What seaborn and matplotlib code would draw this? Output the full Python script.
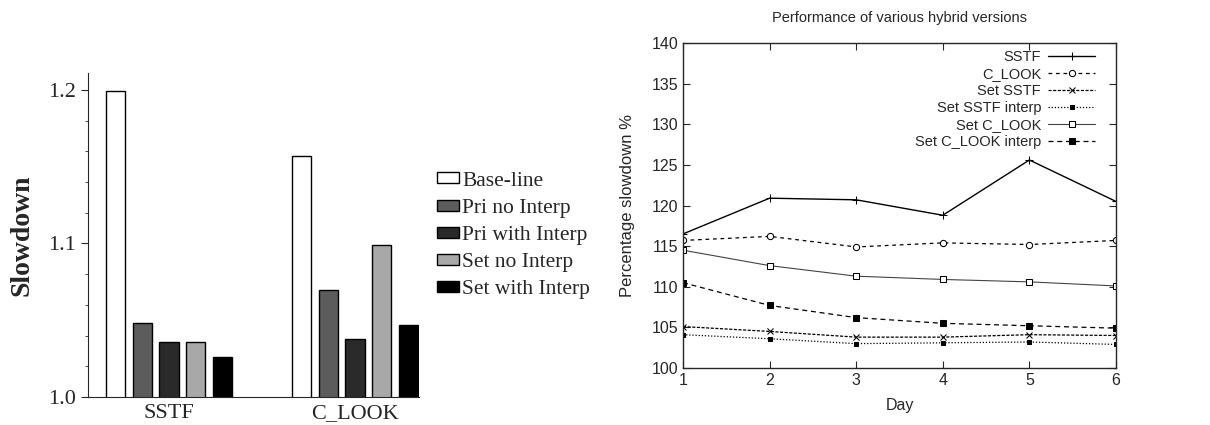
import pandas as pd
import matplotlib
matplotlib.use('Agg')
import matplotlib.pyplot as plt
from matplotlib.ticker import MultipleLocator, FormatStrFormatter
import seaborn as sns

# Left panel: slowdown per scheduler and variant
schedulers = ['SSTF', 'C_LOOK']
variants = ['Base-line', 'Pri no Interp', 'Pri with Interp', 'Set no Interp', 'Set with Interp']
sstf_slowdown = [1.199, 1.048, 1.036, 1.036, 1.026]
clook_slowdown = [1.157, 1.070, 1.038, 1.099, 1.047]
bar_colors = ['#ffffff', '#5c5c5c', '#2a2a2a', '#a8a8a8', '#000000']

# Right panel: percentage slowdown per day
days = [1, 2, 3, 4, 5, 6]
sstf = [116.5, 120.9, 120.7, 118.8, 125.6, 120.5]
c_look = [115.7, 116.2, 114.9, 115.4, 115.2, 115.7]
set_sstf = [105.1, 104.5, 103.8, 103.8, 104.1, 104.0]
set_sstf_interp = [104.1, 103.6, 103.0, 103.1, 103.2, 102.9]
set_c_look = [114.5, 112.6, 111.3, 110.9, 110.6, 110.1]
set_c_look_interp = [110.5, 107.7, 106.2, 105.5, 105.2, 104.9]
line_names = ['SSTF', 'C_LOOK', 'Set SSTF', 'Set SSTF interp', 'Set C_LOOK', 'Set C_LOOK interp']

sns.set_style('ticks')
serif = 'Liberation Serif'
sans = 'Liberation Sans'

bar_df = pd.DataFrame({
    'scheduler': [s for s in schedulers for _ in variants],
    'variant': variants * 2,
    'slowdown': sstf_slowdown + clook_slowdown,
})

fig = plt.figure(figsize=(12.1, 4.25), dpi=100)
ax1 = fig.add_axes([88 / 1210, 28 / 425, 331 / 1210, 324 / 425])
ax2 = fig.add_axes([683 / 1210, 57 / 425, 433 / 1210, 325 / 425])

# ---- left: grouped bars ----
sns.barplot(data=bar_df, x='scheduler', y='slowdown', hue='variant',
            palette=bar_colors, saturation=1, edgecolor='black', linewidth=1,
            width=0.715, gap=0.28, ax=ax1)
ax1.set_ylim(1.0, 1.211)
ax1.set_xlim(-0.435, 1.344)
ax1.yaxis.set_major_locator(MultipleLocator(0.1))
ax1.yaxis.set_minor_locator(MultipleLocator(0.02))
ax1.yaxis.set_major_formatter(FormatStrFormatter('%.1f'))
ax1.tick_params(axis='y', which='major', direction='out', length=5, labelsize=16)
ax1.tick_params(axis='y', which='minor', direction='out', length=2)
ax1.tick_params(axis='x', length=0, labelsize=16, pad=5)
for lab in ax1.get_xticklabels() + ax1.get_yticklabels():
    lab.set_fontfamily(serif)
ax1.set_xlabel('')
ax1.set_ylabel('Slowdown', fontfamily=serif, fontsize=20, fontweight='bold')
ax1.yaxis.set_label_coords(-0.163, 0.5)
sns.despine(ax=ax1)
ax1.legend(loc='center left', bbox_to_anchor=(418 / 1210, 0.446),
           bbox_transform=fig.transFigure, frameon=False,
           handlelength=1.0, handleheight=0.4, handletextpad=0.15,
           labelspacing=0.38, prop={'family': serif, 'size': 15.5})

# ---- right: lines per version ----
series = [sstf, c_look, set_sstf, set_sstf_interp, set_c_look, set_c_look_interp]
styles = [
    dict(linestyle='-', marker='+', ms=6, color='black', lw=1.0),
    dict(linestyle=(0, (3, 3)), marker='o', ms=4.5, mfc='white', color='black', lw=0.9),
    dict(linestyle=(0, (2.5, 1.2)), marker='x', ms=4.5, color='black', lw=0.9),
    dict(linestyle=(0, (1, 1.5)), marker='s', ms=3.5, color='black', lw=0.9),
    dict(linestyle='-', marker='s', ms=4.5, mfc='white', color='#444444', lw=0.8),
    dict(linestyle=(0, (4, 3)), marker='s', ms=4.5, color='black', lw=0.9),
]
for name, vals, st in zip(line_names, series, styles):
    sns.lineplot(x=days, y=vals, ax=ax2, label=name, mec='black', **st)

ax2.set_xlim(1, 6)
ax2.set_ylim(100, 140)
ax2.xaxis.set_major_locator(MultipleLocator(1))
ax2.yaxis.set_major_locator(MultipleLocator(5))
ax2.tick_params(direction='in', top=True, right=True, length=5, labelsize=11.5)
for lab in ax2.get_xticklabels() + ax2.get_yticklabels():
    lab.set_fontfamily(sans)
for sp in ax2.spines.values():
    sp.set_linewidth(1.0)
ax2.set_title('Performance of various hybrid versions', fontfamily=sans, fontsize=10.5, pad=15)
ax2.set_xlabel('Day', fontfamily=sans, fontsize=11.5, labelpad=7)
ax2.set_ylabel('Percentage slowdown %', fontfamily=sans, fontsize=12)
ax2.yaxis.set_label_coords(-0.11, 0.5)
ax2.legend(loc='upper right', bbox_to_anchor=(0.965, 0.995), frameon=False,
           markerfirst=False, handlelength=3.2, handletextpad=0.5,
           labelspacing=0.2, borderaxespad=0, prop={'family': sans, 'size': 10.5})

fig.savefig('out.png', dpi=100)
